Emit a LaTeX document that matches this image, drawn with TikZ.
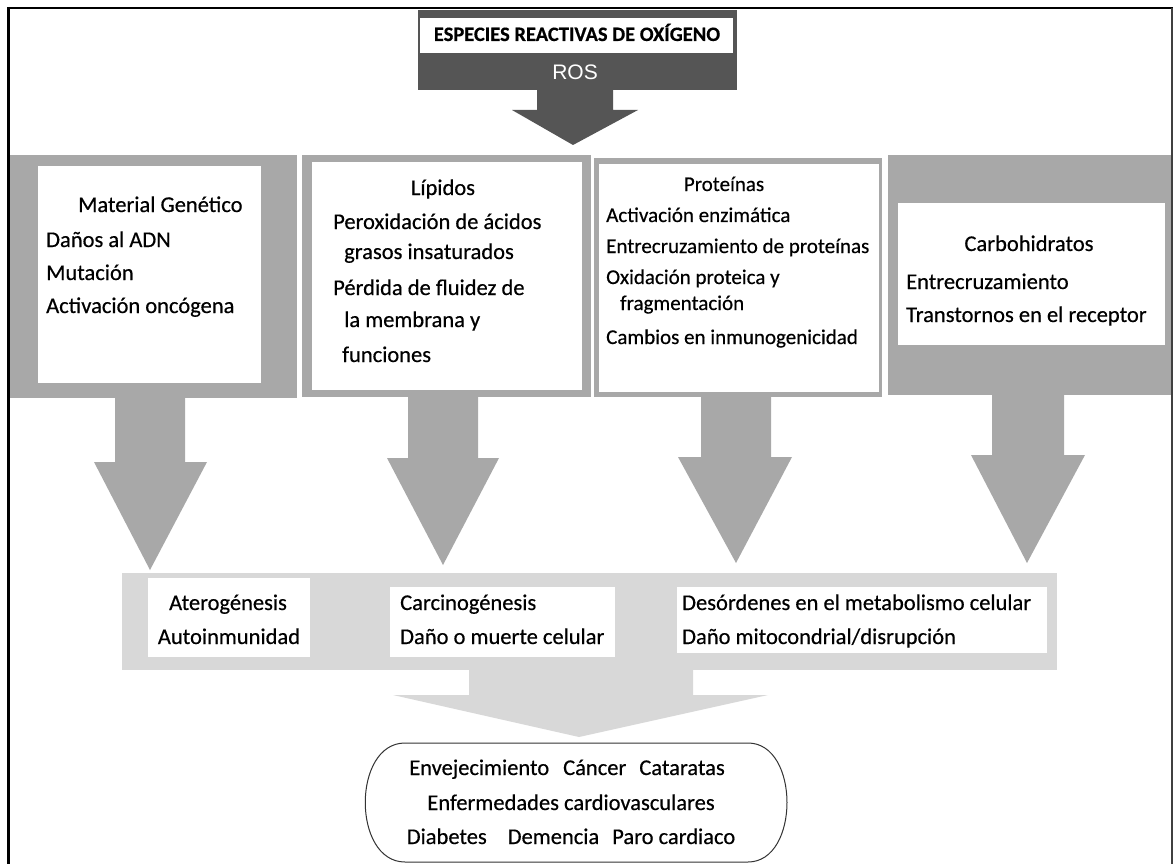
\documentclass[tikz,border=0pt]{standalone}
\usepackage{fontspec}
\setmainfont{Carlito}[FakeBold=0.45]
\newfontfamily\rosfont{Liberation Sans}
\newcommand\fsA{\fontsize{22.5}{27}\selectfont}
\newcommand\fsB{\fontsize{21}{25}\selectfont}
\definecolor{hdr}{HTML}{555555}
\definecolor{colgray}{HTML}{A8A8A8}
\definecolor{lightg}{HTML}{D8D8D8}
\tikzset{
  lt/.style={anchor=base west, inner sep=0pt, font=\fsA},
  ct/.style={anchor=base, inner sep=0pt, font=\fsA},
  ltB/.style={anchor=base west, inner sep=0pt, font=\fsB},
  ctB/.style={anchor=base, inner sep=0pt, font=\fsB},
  gfill/.style={fill=colgray, draw=none},
  wfill/.style={fill=white, draw=none},
}
\begin{document}
\begin{tikzpicture}[x=1pt,y=-1pt]
\useasboundingbox (0,0) rectangle (1173,864);
\fill[white] (0,0) rectangle (1173,864);

% header
\fill[hdr] (418,10) rectangle (737,90);
\fill[white] (420,18) rectangle (733,53);
\node[anchor=base, inner sep=0pt, font=\fontsize{20.5}{24}\selectfont\bfseries] (ros1) at (577,41) {ESPECIES REACTIVAS DE OXÍGENO};
\node[anchor=base, inner sep=0pt, text=white, font=\rosfont\fontsize{21}{24}\selectfont] (ros2) at (575,80) {ROS};
\fill[hdr] (537,90) -- (613,90) -- (613,110) -- (638,110) -- (573,145) -- (512,110) -- (537,110) -- cycle;

% columns
\fill[gfill] (8,155) rectangle (297,398);
\fill[wfill] (38,166) rectangle (261,383);
\fill[gfill] (302,155) rectangle (591,397);
\fill[wfill] (312,162) rectangle (582,390);
\fill[gfill] (594,158) rectangle (882,397);
\fill[wfill] (599,164) rectangle (879,392);
\fill[gfill] (888,155) rectangle (1172,395);
\fill[wfill] (898,203) rectangle (1165,345);

% column 1
\node[lt] (c1t) at (78,212) {Material Genético};
\node[lt] (c1a) at (46,247) {Daños al ADN};
\node[lt] (c1b) at (46,280) {Mutación};
\node[lt] (c1c) at (46,313) {Activación oncógena};
% column 2
\node[ct] (c2t) at (443,195) {Lípidos};
\node[lt] (c2a) at (333,229) {Peroxidación de ácidos};
\node[lt] (c2b) at (344,259) {grasos insaturados};
\node[lt] (c2c) at (333,295) {Pérdida de fluidez de};
\node[lt] (c2d) at (344,327) {la membrana y};
\node[lt] (c2e) at (342,362) {funciones};
% column 3
\node[ctB] (c3t) at (724,191) {Proteínas};
\node[ltB] (c3a) at (606,222) {Activación enzimática};
\node[ltB] (c3b) at (606,253) {Entrecruzamiento de proteínas};
\node[ltB] (c3c) at (606,284) {Oxidación proteica y};
\node[ltB] (c3d) at (620,310) {fragmentación};
\node[ltB] (c3e) at (606,344) {Cambios en inmunogenicidad};
% column 4
\node[ct] (c4t) at (1029,251) {Carbohidratos};
\node[lt] (c4a) at (906,289) {Entrecruzamiento};
\node[lt] (c4b) at (906,322) {Transtornos en el receptor};

% arrows below columns
\fill[colgray] (115,398) -- (185,398) -- (185,462) -- (207,462) -- (150,570) -- (94,462) -- (115,462) -- cycle;
\fill[colgray] (408,397) -- (478,397) -- (478,458) -- (499,458) -- (443,565) -- (387,458) -- (408,458) -- cycle;
\fill[colgray] (701,397) -- (771,397) -- (771,457) -- (792,457) -- (736,563) -- (678,457) -- (701,457) -- cycle;
\fill[colgray] (992,395) -- (1064,395) -- (1064,455) -- (1085,455) -- (1027,563) -- (971,455) -- (992,455) -- cycle;

% bottom band
\fill[lightg] (122,573) rectangle (1057,670);
\fill[wfill] (148,578) rectangle (310,657);
\fill[wfill] (390,587) rectangle (615,657);
\fill[wfill] (677,587) rectangle (1047,653);
\node[ct] (b1a) at (228,610) {Aterogénesis};
\node[ct] (b1b) at (229,644) {Autoinmunidad};
\node[lt] (b2a) at (400,610) {Carcinogénesis};
\node[lt] (b2b) at (400,644) {Daño o muerte celular};
\node[lt] (b3a) at (682,610) {Desórdenes en el metabolismo celular};
\node[lt] (b3b) at (682,644) {Daño mitocondrial/disrupción};

% big bottom arrow
\fill[lightg] (469,670) -- (693,670) -- (693,695) -- (768,695) -- (579,737) -- (393,695) -- (469,695) -- cycle;

% outcome oval
\draw[draw=black!80, line width=1pt] (405,743) -- (748,743) .. controls (800,743) and (800,862) .. (748,862) -- (405,862) .. controls (352,862) and (352,743) .. (405,743) -- cycle;
\node[ct] (o1) at (567,775) {Envejecimiento\hspace{14pt}Cáncer\hspace{13pt}Cataratas};
\node[ct] (o2) at (571,810) {Enfermedades cardiovasculares};
\node[ct] (o3) at (571,844) {Diabetes\hspace{21pt}Demencia\hspace{13pt}Paro cardiaco};

% frame
\draw[black, line width=2.5pt] (7,8) -- (1173,8);
\draw[black, line width=3pt] (8,7) -- (8,864);
\draw[black!75, line width=2pt] (1172,8) -- (1172,864);
\end{tikzpicture}
\end{document}
